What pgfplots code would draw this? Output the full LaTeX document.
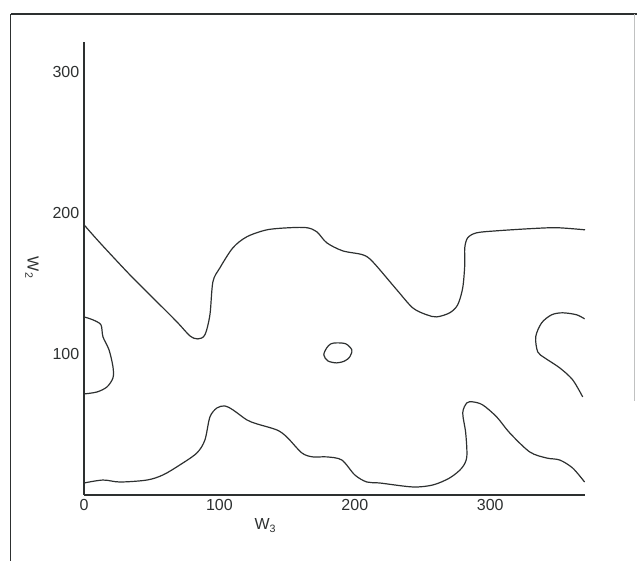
\documentclass[border=0pt]{standalone}
\usepackage{pgfplots}
\pgfplotsset{compat=1.18}
\usepackage{fontspec}
\setmainfont{Liberation Sans}
\definecolor{ink}{RGB}{45,48,48}

\begin{document}
\begin{tikzpicture}
% page = 637 x 561 px at 0.75pt per px
\useasboundingbox (0,0) rectangle (477.75pt,420.75pt);
\draw[ink, line width=1.5pt] (7.9pt,410.25pt) -- (477.75pt,410.25pt);
\draw[ink, line width=1pt] (7.9pt,0pt) -- (7.9pt,410.25pt);
\draw[ink!30, line width=0.5pt] (475.5pt,120pt) -- (475.5pt,410.25pt);
\begin{axis}[
    at={(63pt,49.5pt)}, anchor=south west,
    scale only axis,
    width=375.75pt, height=339.75pt,
    xmin=0, xmax=370, ymin=0, ymax=321,
    axis lines=left,
    axis line style={-, ink, line width=0.8pt},
    x axis line style={line width=1.3pt},
    xtick={0,100,200,300},
    ytick={100,200,300},
    major tick length=0pt,
    tick label style={font=\fontsize{12}{14}\selectfont, text=ink},
    /pgf/number format/assume math mode=true,
    clip=false,
    contour/.style={ink, line width=0.9pt, no markers, smooth, tension=0.5},
]
% upper curve
\addplot[contour] coordinates {
 (0,191.5) (11.8,178.7) (33.9,156.0) (50.9,139.7) (68.6,122.7) (78.2,112.8)
 (84.1,110.6) (89.3,113.5) (93.0,127.7) (95.2,151.1) (100.4,161.0) (110.0,175.2)
 (120.3,183.0) (135.1,187.9) (152.0,189.4) (164.6,189.4) (172.0,186.5) (179.3,178.7)
 (191.1,173.0) (205.9,170.2) (213.3,165.2) (231.0,145.4) (242.8,132.6) (253.1,127.7)
 (260.5,126.2) (270.1,129.1) (276.0,134.8) (279.7,146.8) (281.2,163.1) (281.2,175.2)
 (283.4,182.3) (290.0,185.8) (304.8,187.2) (329.2,188.7) (349.1,189.4) (370,187.9)
};
% lower curve
\addplot[contour] coordinates {
 (0,8.5) (14.0,10.6) (26.6,9.2) (46.5,10.6) (58.3,14.2) (70.8,21.3) (83.4,29.8)
 (89.3,39.0) (93.0,55.3) (98.2,61.7) (104.1,63.1) (110.0,60.3) (120.3,53.2)
 (127.7,50.4) (142.4,46.1) (149.8,41.1) (160.9,29.8) (169.0,27.0) (179.3,27.0)
 (190.4,24.8) (200.0,14.2) (208.9,9.2) (218.5,8.5) (242.8,5.7) (257.6,7.1)
 (270.1,12.1) (279.0,19.1) (282.7,27.0) (281.9,44.0) (279.7,58.2) (282.7,65.2)
 (287.1,66.0) (294.5,63.8) (304.8,55.3) (314.4,44.0) (329.2,30.5) (341.7,26.2)
 (351.3,24.8) (360.9,19.1) (369.7,9.2)
};
% left lobe
\addplot[contour] coordinates {
 (0,126.2) (6.6,124.1) (12.5,120.6) (14.0,112.1) (18.5,102.8) (21.4,90.8)
 (21.4,83.0) (17.0,76.6) (9.6,73.0) (0,71.6)
};
% right lobe
\addplot[contour] coordinates {
 (369.7,124.8) (363.8,127.7) (353.5,129.1) (345.4,127.7) (338.0,122.0)
 (333.6,112.1) (335.1,101.4) (340.2,97.2) (351.3,90.1) (360.9,81.6) (368.3,69.5)
};
% small closed contour
\addplot[contour, smooth cycle] coordinates {
 (186.7,107.8) (193.4,107.1) (197.8,102.8) (196.3,97.9) (192.6,95.0)
 (186.7,93.6) (180.1,95.0) (177.1,99.3) (179.3,104.3) (182.3,107.1)
};
\node[text=ink, font=\fontsize{12}{14}\selectfont] at ([yshift=-23pt]axis cs:134,0) {W\textsubscript{3}};
\node[text=ink, font=\fontsize{12}{14}\selectfont, rotate=-90] at ([xshift=-39pt]axis cs:0,161) {W\textsubscript{2}};
\end{axis}
\end{tikzpicture}
\end{document}
